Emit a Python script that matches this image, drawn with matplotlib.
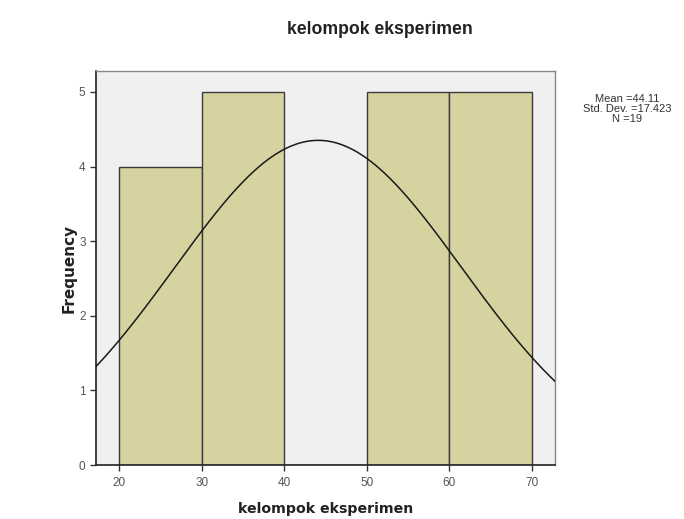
import numpy as np
import matplotlib
matplotlib.use("Agg")
import matplotlib.pyplot as plt

bin_edges = [20, 30, 40, 50, 60, 70]
counts = [4, 5, 0, 5, 5]
mean_val = 44.11
std_val = 17.423
n_val = 19
x_ticks = [20, 30, 40, 50, 60, 70]
y_ticks = [0, 1, 2, 3, 4, 5]

fig = plt.figure(figsize=(6.84, 5.19), dpi=100)
fig.patch.set_facecolor("white")
ax = fig.add_axes([96/684, 1-465/519, (555-96)/684, (465-71)/519])
ax.set_facecolor("#F0F0F0")

lefts = bin_edges[:-1]
widths = np.diff(bin_edges)
ax.bar(lefts, counts, width=widths, align="edge", color="#D6D3A0",
       edgecolor="#3A3A3A", linewidth=1.0, zorder=2)

xmin, xmax = 17.2, 72.8
xs = np.linspace(xmin, xmax, 400)
bw = bin_edges[1] - bin_edges[0]
ys = n_val * bw / (std_val * np.sqrt(2*np.pi)) * np.exp(-0.5*((xs-mean_val)/std_val)**2)
ax.plot(xs, ys, color="#1a1a1a", linewidth=1.1, zorder=3)

ax.set_xlim(xmin, xmax)
ax.set_ylim(0, 5.28)
ax.set_xticks(x_ticks)
ax.set_yticks(y_ticks)
ax.tick_params(direction="out", length=4, width=1, colors="#333333",
               labelsize=8.5, labelcolor="#555555")
ax.tick_params(axis="x", pad=5)
for lab in ax.get_xticklabels() + ax.get_yticklabels():
    lab.set_family("Liberation Sans")
for sp in ["left", "bottom"]:
    ax.spines[sp].set_color("#222222")
    ax.spines[sp].set_linewidth(1.2)
for sp in ["top", "right"]:
    ax.spines[sp].set_color("#888888")
    ax.spines[sp].set_linewidth(1.0)

ax.set_xlabel("kelompok eksperimen", fontsize=10.2, fontweight="bold",
              family="DejaVu Sans", color="#222222", labelpad=9)
ax.set_ylabel("Frequency", fontsize=11, fontweight="bold",
              family="DejaVu Sans", color="#222222", labelpad=2)

fig.text(380/684, 1-30/519, "kelompok eksperimen", ha="center", va="center",
         fontsize=12.7, fontweight="bold", family="Liberation Sans", color="#222222")

fig.text(627/684, 1-109/519,
         f"Mean ={mean_val}\nStd. Dev. ={std_val}\nN ={n_val}",
         ha="center", va="center", fontsize=8, family="Liberation Sans",
         color="#333333", linespacing=0.95)

fig.savefig("out.png", dpi=100)
